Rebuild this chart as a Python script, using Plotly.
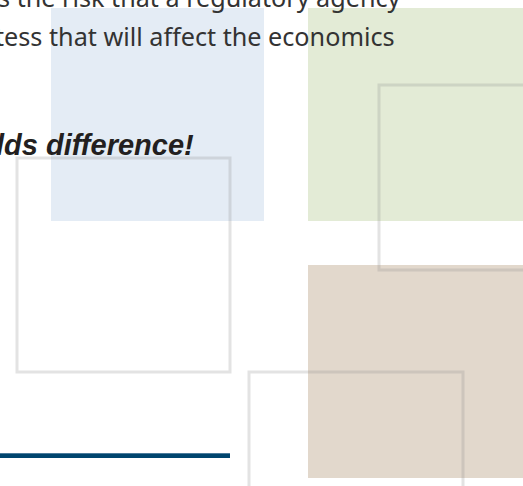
import plotly.graph_objects as go

W, H = 523, 486

# Filled panels
fill_x0 = [51, 308, 308]
fill_x1 = [264, 540, 540]
fill_y0 = [8, 8, 265]
fill_y1 = [221, 221, 478]
fill_colors = ["#e4ecf5", "#e3ebd6", "#e2d8cc"]

# Outline frames
frame_x0 = [17, 379, 249]
frame_x1 = [230, 600, 463]
frame_y0 = [158, 85, 372]
frame_y1 = [372, 270, 560]

# Rule line
rule_x = [0, 230]
rule_y = [453, 458]

# Text lines
text_lines = ["ts the risk that a regulatory agency",
              "tess that will affect the economics",
              "<b><i>lds difference!</i></b>"]
text_right = [403, 397, 196]
text_y = [-3, 36, 145]
text_fonts = ["Noto Sans", "Noto Sans", "Liberation Sans"]
text_sizes = [25.2, 25.2, 29]
text_colors = ["#333333", "#333333", "#231f20"]

fig = go.Figure()
fig.add_trace(go.Scatter(x=[0, W], y=[0, H], mode="markers",
                         marker=dict(opacity=0), hoverinfo="skip", showlegend=False))

shapes = []
for x0, x1, y0, y1, c in zip(fill_x0, fill_x1, fill_y0, fill_y1, fill_colors):
    shapes.append(dict(type="rect", xref="x", yref="y", x0=x0, x1=x1, y0=y0, y1=y1,
                       fillcolor=c, line=dict(width=0), layer="below"))
for x0, x1, y0, y1 in zip(frame_x0, frame_x1, frame_y0, frame_y1):
    shapes.append(dict(type="rect", xref="x", yref="y", x0=x0, x1=x1, y0=y0, y1=y1,
                       fillcolor="rgba(0,0,0,0)",
                       line=dict(color="rgba(140,140,140,0.24)", width=3), layer="above"))
shapes.append(dict(type="rect", xref="x", yref="y", x0=rule_x[0], x1=rule_x[1],
                   y0=rule_y[0], y1=rule_y[1], fillcolor="#00456e",
                   line=dict(width=0), layer="above"))
shapes.append(dict(type="line", xref="x", yref="y", x0=rule_x[0], x1=rule_x[1],
                   y0=rule_y[0] + 0.5, y1=rule_y[0] + 0.5,
                   line=dict(color="#4d7c9c", width=1), layer="above"))

annotations = []
for t, xr, yc, fam, sz, col in zip(text_lines, text_right, text_y,
                                    text_fonts, text_sizes, text_colors):
    annotations.append(dict(text=t, x=xr / W, y=1 - yc / H, xref="paper", yref="paper",
                            xanchor="right", yanchor="middle", showarrow=False,
                            font=dict(family=fam, size=sz, color=col)))

fig.update_layout(
    width=W, height=H, margin=dict(l=0, r=0, t=0, b=0),
    paper_bgcolor="white", plot_bgcolor="white",
    xaxis=dict(range=[0, W], visible=False, fixedrange=True),
    yaxis=dict(range=[H, 0], visible=False, fixedrange=True),
    shapes=shapes, annotations=annotations, showlegend=False,
)

fig.write_html("out.html", config={"displayModeBar": False},
               post_script="document.body.style.margin='0';document.body.style.overflow='hidden';")
